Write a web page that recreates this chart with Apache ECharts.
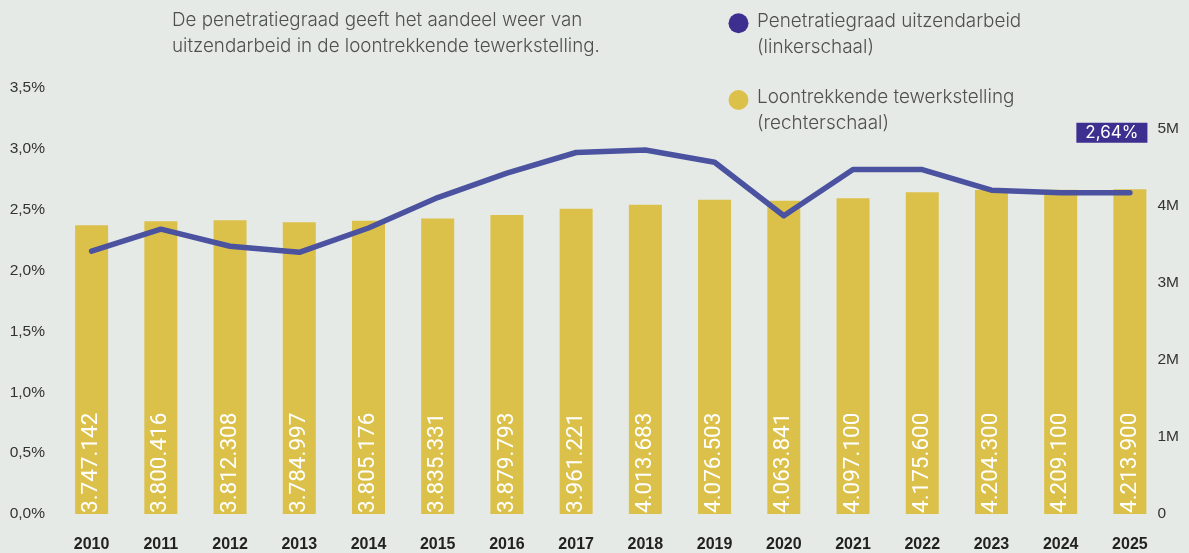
<!DOCTYPE html>
<html>
<head>
<meta charset="utf-8">
<script src="https://cdn.jsdelivr.net/npm/echarts@6/dist/echarts.min.js"></script>
<style>
  html, body { margin: 0; padding: 0; background: #e6eae6; }
  #chart { width: 1189px; height: 553px; }
</style>
</head>
<body>
<div id="chart"></div>
<script>
// Jaren op de categorie-as
const years = ['2010','2011','2012','2013','2014','2015','2016','2017','2018','2019','2020','2021','2022','2023','2024','2025'];
// Penetratiegraad uitzendarbeid (%), linkerschaal
const penetratie = [2.16, 2.34, 2.20, 2.15, 2.35, 2.60, 2.80, 2.97, 2.99, 2.89, 2.45, 2.83, 2.83, 2.66, 2.64, 2.64];
// Loontrekkende tewerkstelling, rechterschaal
const tewerkstelling = [3747142, 3800416, 3812308, 3784997, 3805176, 3835331, 3879793, 3961221, 4013683, 4076503, 4063841, 4097100, 4175600, 4204300, 4209100, 4213900];
// Tekstblokken
const introText = 'De penetratiegraad geeft het aandeel weer van\nuitzendarbeid in de loontrekkende tewerkstelling.';
const legendLines = [
  ['Penetratiegraad uitzendarbeid', '(linkerschaal)'],
  ['Loontrekkende tewerkstelling', '(rechterschaal)']
];

const purple = '#3c2f90';
const lineColor = '#4b52a0';
const gold = '#dbc14a';
const axisFont = 'Liberation Sans, Arial, sans-serif';
const textFont = 'Inter, Noto Sans, sans-serif';
const textGrey = '#505050';

const fmtNL = v => String(v).replace(/\B(?=(\d{3})+(?!\d))/g, '.');
const fmtPct = v => v.toFixed(1).replace('.', ',') + '%';

const chart = echarts.init(document.getElementById('chart'));
chart.setOption({
  backgroundColor: '#e6eae6',
  animation: false,
  title: {
    text: introText,
    left: 172, top: 7, padding: 0,
    textStyle: { fontFamily: textFont, fontSize: 18.8, fontWeight: 300, color: textGrey, lineHeight: 26 }
  },
  graphic: [
    { type: 'circle', shape: { cx: 738.5, cy: 23.3, r: 10 }, style: { fill: purple } },
    { type: 'text', left: 757, top: 8, style: { text: legendLines[0].join('\n'), font: '300 18.9px Inter, Noto Sans, sans-serif', fill: textGrey, lineHeight: 26 } },
    { type: 'circle', shape: { cx: 738.5, cy: 100, r: 10 }, style: { fill: gold } },
    { type: 'text', left: 757, top: 84.5, style: { text: legendLines[1].join('\n'), font: '300 18.9px Inter, Noto Sans, sans-serif', fill: textGrey, lineHeight: 26 } }
  ],
  grid: { left: 57, right: 24.5, top: 88, bottom: 39, containLabel: false },
  xAxis: {
    type: 'category',
    data: years,
    axisLine: { show: false },
    axisTick: { show: false },
    axisLabel: { fontFamily: axisFont, fontSize: 16, fontWeight: 'bold', color: '#222', margin: 23 }
  },
  yAxis: [
    {
      type: 'value', min: 0, max: 3.5, interval: 0.5,
      splitLine: { show: false },
      axisLabel: { fontFamily: axisFont, fontSize: 15.5, color: '#333', margin: 12, formatter: fmtPct }
    },
    {
      type: 'value', min: 0, max: 5528000, interval: 1000000,
      position: 'right',
      splitLine: { show: false },
      axisLabel: {
        fontFamily: axisFont, fontSize: 15.5, color: '#333', margin: -7, showMaxLabel: false,
        formatter: v => v === 0 ? '0' : (v / 1000000) + 'M'
      }
    }
  ],
  series: [
    {
      name: 'Loontrekkende tewerkstelling',
      type: 'bar',
      yAxisIndex: 1,
      data: tewerkstelling,
      barWidth: 33,
      itemStyle: { color: gold },
      label: {
        show: true,
        position: 'insideBottom',
        rotate: 90,
        align: 'left',
        verticalAlign: 'middle',
        distance: 1,
        fontFamily: 'Roboto, Liberation Sans, sans-serif',
        fontWeight: 400,
        fontSize: 22.5,
        color: '#ffffff',
        formatter: p => fmtNL(p.value)
      },
      z: 1
    },
    {
      name: 'Penetratiegraad uitzendarbeid',
      type: 'line',
      yAxisIndex: 0,
      data: penetratie.map((v, i) => i === penetratie.length - 1 ? {
        value: v,
        label: {
          show: true,
          position: 'top',
          distance: 50,
          offset: [-18, 0],
          formatter: p => p.value.toFixed(2).replace('.', ',') + '%',
          backgroundColor: purple,
          color: '#ffffff',
          fontFamily: textFont,
          fontSize: 17,
          lineHeight: 19,
          padding: [1, 9, 0, 9]
        }
      } : v),
      symbol: 'circle',
      symbolSize: 0,
      showSymbol: true,
      lineStyle: { color: lineColor, width: 5.5, cap: 'round', join: 'round' },
      itemStyle: { color: lineColor },
      z: 2
    }
  ]
});
</script>
</body>
</html>
